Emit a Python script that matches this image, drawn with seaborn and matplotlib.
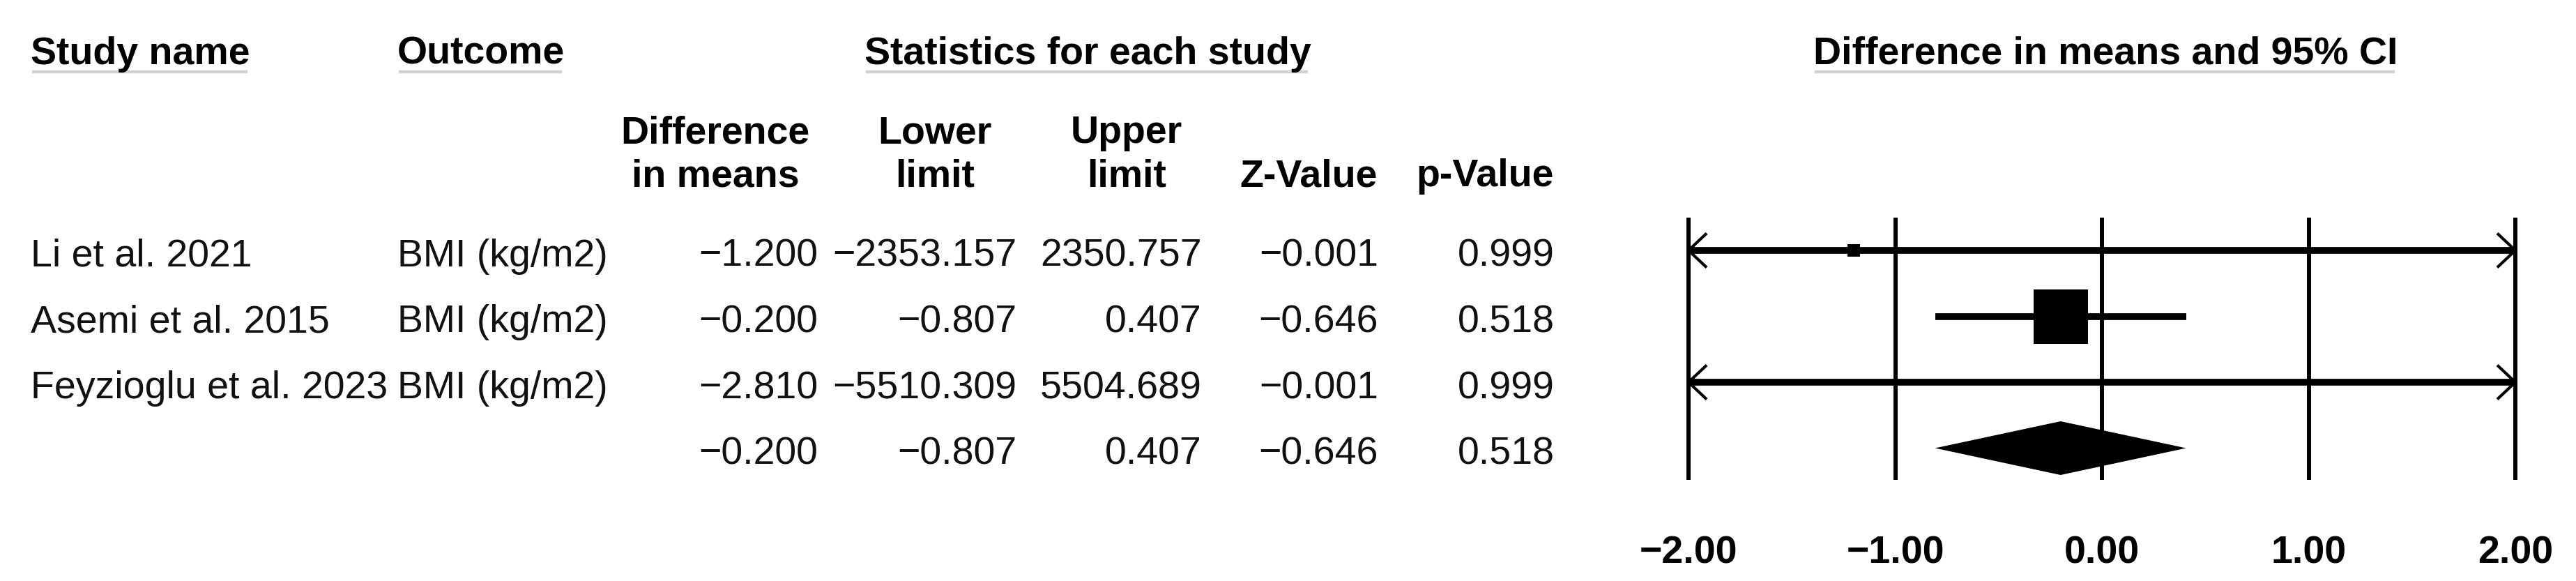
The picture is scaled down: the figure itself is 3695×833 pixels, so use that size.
import matplotlib
matplotlib.use("Agg")
import matplotlib.pyplot as plt
import seaborn as sns
import numpy as np
import pandas as pd

# ---------------- data ----------------
studies = ["Li et al. 2021", "Asemi et al. 2015", "Feyzioglu et al. 2023"]
outcomes = ["BMI (kg/m2)", "BMI (kg/m2)", "BMI (kg/m2)"]
diff_means = [-1.200, -0.200, -2.810]
lower_limits = [-2353.157, -0.807, -5510.309]
upper_limits = [2350.757, 0.407, 5504.689]
z_values = [-0.001, -0.646, -0.001]
p_values = [0.999, 0.518, 0.999]

summary_diff = -0.200
summary_lower = -0.807
summary_upper = 0.407
summary_z = -0.646
summary_p = 0.518

x_ticks = [-2.0, -1.0, 0.0, 1.0, 2.0]

# ---------------- style / layout ----------------
sns.set_theme(style="white")
plt.rcParams["font.family"] = ["Liberation Sans", "DejaVu Sans"]
FS = 40

W, H = 3695, 833
DPI = 100
ROW0 = 359.0     # pixel y of first row
STEP = 94.5      # pixel distance between rows


def yrow(px):
    return (px - ROW0) / STEP


ylim = (yrow(H), yrow(0))

fig = plt.figure(figsize=(W / DPI, H / DPI), dpi=DPI)
fig.patch.set_facecolor("white")

ax_t = fig.add_axes([0, 0, 1, 1])
ax_t.set_xlim(0, W)
ax_t.set_ylim(*ylim)
ax_t.axis("off")

X_LEFT_PX, X_RIGHT_PX = 2422, 3608
ax_f = fig.add_axes([X_LEFT_PX / W, 0, (X_RIGHT_PX - X_LEFT_PX) / W, 1])
ax_f.set_xlim(x_ticks[0], x_ticks[-1])
ax_f.set_ylim(*ylim)
ax_f.axis("off")


def fmt(v, nd=3):
    return f"{v:.{nd}f}".replace("-", "\u2212")


# ---------------- headers ----------------
hdr_kw = dict(fontsize=FS, fontweight="bold", va="baseline", color="black")
underlined = []
underlined.append(ax_t.text(44, yrow(92), "Study name", ha="left", **hdr_kw))
underlined.append(ax_t.text(570, yrow(92), "Outcome", ha="left", **hdr_kw))
underlined.append(ax_t.text(1560, yrow(92), "Statistics for each study", ha="center", **hdr_kw))
underlined.append(ax_t.text(3020, yrow(92), "Difference in means and 95% CI", ha="center", **hdr_kw))

sub_headers = [
    (1026, "Difference", "in means"),
    (1341, "Lower", "limit"),
    (1616, "Upper", "limit"),
    (1877, "", "Z-Value"),
    (2130, "", "p-Value"),
]
for xc, l1, l2 in sub_headers:
    if l1:
        ax_t.text(xc, yrow(205), l1, ha="center", **hdr_kw)
    ax_t.text(xc, yrow(267), l2, ha="center", **hdr_kw)

# ---------------- table rows ----------------
BASE_OFF = (382 - 359) / STEP
row_kw = dict(fontsize=FS, va="baseline", color="#111111")
col_right = [1173, 1458, 1724, 1977, 2230]

table = pd.DataFrame({
    "study": studies + [""],
    "outcome": outcomes + [""],
    "diff": diff_means + [summary_diff],
    "lower": lower_limits + [summary_lower],
    "upper": upper_limits + [summary_upper],
    "z": z_values + [summary_z],
    "p": p_values + [summary_p],
})

for i, r in table.iterrows():
    y = i + BASE_OFF
    ax_t.text(44, y, r["study"], ha="left", **row_kw)
    ax_t.text(570, y, r["outcome"], ha="left", **row_kw)
    for xr, key in zip(col_right, ["diff", "lower", "upper", "z", "p"]):
        ax_t.text(xr, y, fmt(r[key]), ha="right", **row_kw)

# ---------------- forest plot ----------------
n = len(studies)
ax_f.vlines(x_ticks, yrow(312), yrow(688), color="black", lw=4.3, clip_on=False, zorder=1)

xmin, xmax = x_ticks[0], x_ticks[-1]
adx = 26 / ((X_RIGHT_PX - X_LEFT_PX) / (xmax - xmin))
ady = 24.5 / STEP
for i in range(n):
    lo, hi = lower_limits[i], upper_limits[i]
    lo_c, hi_c = max(lo, xmin), min(hi, xmax)
    ax_f.hlines(i, lo_c, hi_c, color="black", lw=7, zorder=2, clip_on=False)
    if lo < xmin:
        ax_f.plot([xmin + adx, xmin, xmin + adx], [i - ady, i, i + ady],
                  color="black", lw=3, solid_capstyle="butt", clip_on=False, zorder=3)
    if hi > xmax:
        ax_f.plot([xmax - adx, xmax, xmax - adx], [i - ady, i, i + ady],
                  color="black", lw=3, solid_capstyle="butt", clip_on=False, zorder=3)

box_side_px = [18, 78, 18]
box_area = [(s * 72 / DPI) ** 2 for s in box_side_px]
pts = pd.DataFrame({"diff": diff_means, "row": list(range(n)), "area": box_area})
sns.scatterplot(data=pts, x="diff", y="row", marker="s", s=pts["area"].values,
                color="black", linewidth=0, legend=False, ax=ax_f, zorder=4)
ax_f.set_xlim(xmin, xmax)
ax_f.set_ylim(*ylim)
ax_f.axis("off")

# summary diamond
hh = 38.5 / STEP
ax_f.fill([summary_lower, summary_diff, summary_upper, summary_diff],
          [n, n - hh, n, n + hh], color="black", lw=0, zorder=4)

# tick labels
for t in x_ticks:
    ax_f.text(t, yrow(807), fmt(t, 2), ha="center", fontsize=FS, fontweight="bold",
              va="baseline", color="black", clip_on=False)

# underlines for headers
fig.canvas.draw()
renderer = fig.canvas.get_renderer()
for t in underlined:
    bb = t.get_window_extent(renderer=renderer)
    ax_t.plot([bb.x0 + 2, bb.x1 - 4], [yrow(103), yrow(103)], color="#d2d2d2", lw=3.2,
              solid_capstyle="butt")

fig.savefig("out.png", dpi=DPI, facecolor="white")
